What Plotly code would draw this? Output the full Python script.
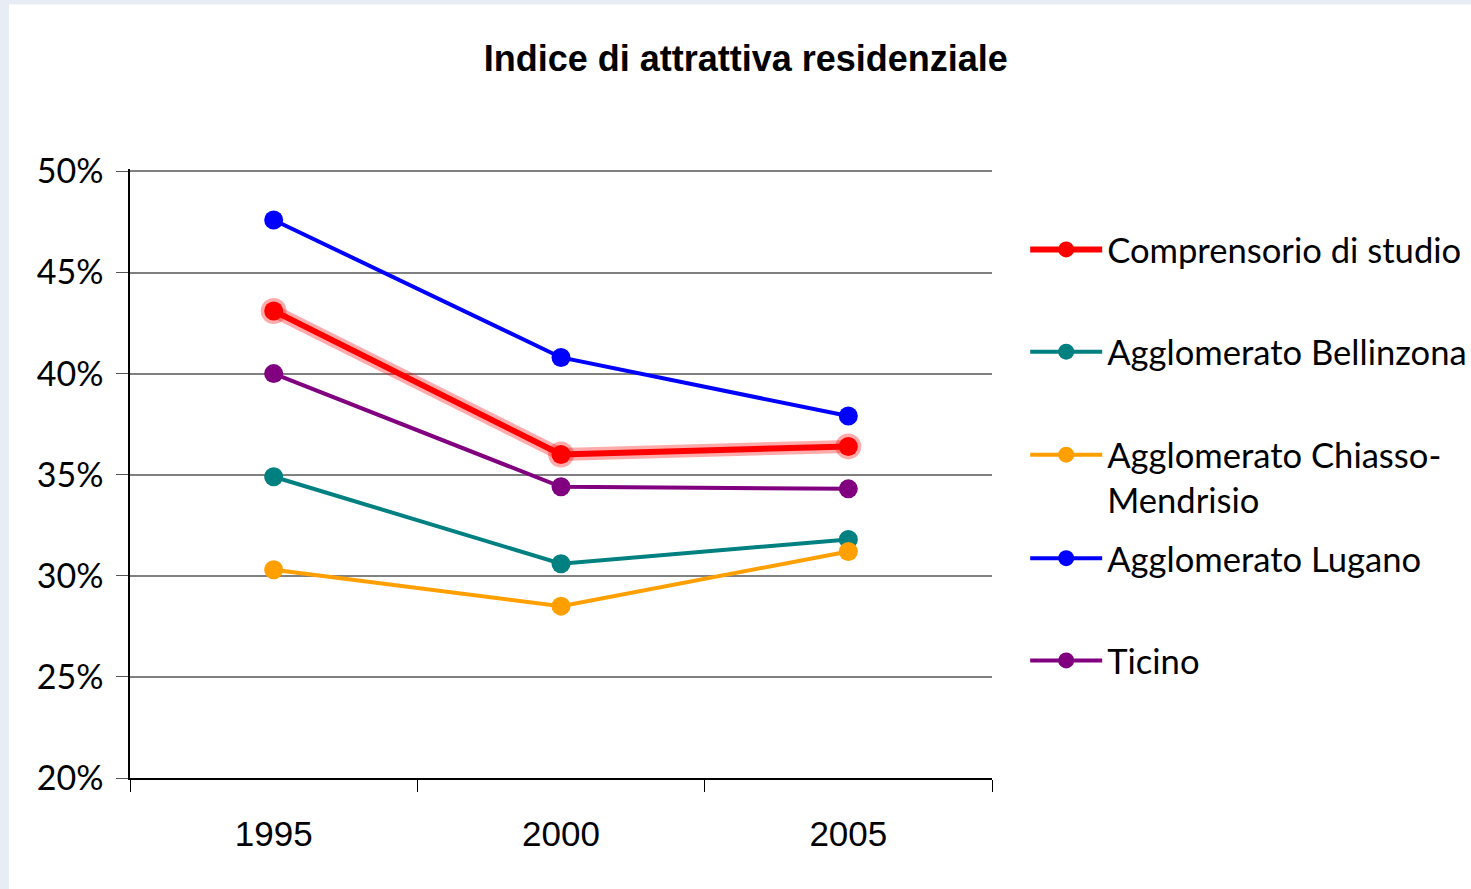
import plotly.graph_objects as go

# data
years = ["1995", "2000", "2005"]
comprensorio = [0.431, 0.360, 0.364]
bellinzona = [0.349, 0.306, 0.318]
chiasso = [0.303, 0.285, 0.312]
lugano = [0.476, 0.408, 0.379]
ticino = [0.400, 0.344, 0.343]

names = ["Comprensorio di studio", "Agglomerato Bellinzona",
         "Agglomerato Chiasso-<br>Mendrisio", "Agglomerato Lugano", "Ticino"]
colors = ["#ff0000", "#008080", "#ff9f00", "#0000ff", "#800080"]
series = [comprensorio, bellinzona, chiasso, lugano, ticino]
legend_y = [0.868, 0.700, 0.494, 0.361, 0.193]

fig = go.Figure()

# soft glow under the red series
fig.add_trace(go.Scatter(x=years, y=comprensorio, mode="lines+markers", showlegend=False,
                         line=dict(color="rgba(255,0,0,0.33)", width=13),
                         marker=dict(size=26, color="rgba(255,0,0,0.33)"), hoverinfo="skip"))

order = [4, 1, 2, 3, 0]  # red drawn last
for i in order:
    fig.add_trace(go.Scatter(
        x=years, y=series[i], mode="lines+markers", name=names[i],
        line=dict(color=colors[i], width=6 if i == 0 else 4),
        marker=dict(size=19, color=colors[i]),
        legend="legend" if i == 0 else f"legend{i + 1}"))

leg_font = dict(family="Lato, 'Noto Sans', sans-serif", size=34.6, color="black")
for i, ly in enumerate(legend_y):
    key = "legend" if i == 0 else f"legend{i + 1}"
    fig.update_layout({key: dict(x=1.0385, y=ly, xanchor="left", yanchor="middle",
                                 font=leg_font, bgcolor="rgba(0,0,0,0)", itemwidth=72,
                                 valign="top")})

fig.update_xaxes(type="category", range=[-0.5, 2.5], tickson="boundaries", ticks="outside",
                 ticklen=12, tickcolor="black", showline=True, linecolor="black", linewidth=1.5,
                 showgrid=False, ticklabelstandoff=24,
                 tickfont=dict(family="'Liberation Sans', Arial", size=35, color="black"))
# top of range nudged up a little so the 50% gridline is drawn inside the plot
fig.update_yaxes(range=[0.2, 0.5012], tickvals=[0.2, 0.25, 0.3, 0.35, 0.4, 0.45, 0.5],
                 tickformat=".0%", ticks="outside", ticklen=12,
                 tickcolor="#555555", showline=True, linecolor="black", linewidth=1.5,
                 gridcolor="#808080", gridwidth=1.5, zeroline=False, ticklabelstandoff=6,
                 tickfont=dict(family="Lato, 'Noto Sans', sans-serif", size=34, color="black"))

fig.update_layout(
    width=1471, height=889,
    title=dict(text="<b>Indice di attrattiva residenziale</b>", x=0.507, xanchor="center",
               y=0.934, yanchor="middle",
               font=dict(family="'Liberation Sans', Arial", size=36, color="black")),
    paper_bgcolor="#e8ecf4", plot_bgcolor="white",
    margin=dict(l=130, r=479, t=169, b=111, autoexpand=False),
    shapes=[dict(type="rect", xref="paper", yref="paper", x0=-0.1404, x1=1.6, y0=-0.2, y1=1.27,
                 fillcolor="white", line_width=0, layer="below")],
)

fig.write_html("out.html", config={"displayModeBar": False},
               post_script="document.body.style.margin='0';")
